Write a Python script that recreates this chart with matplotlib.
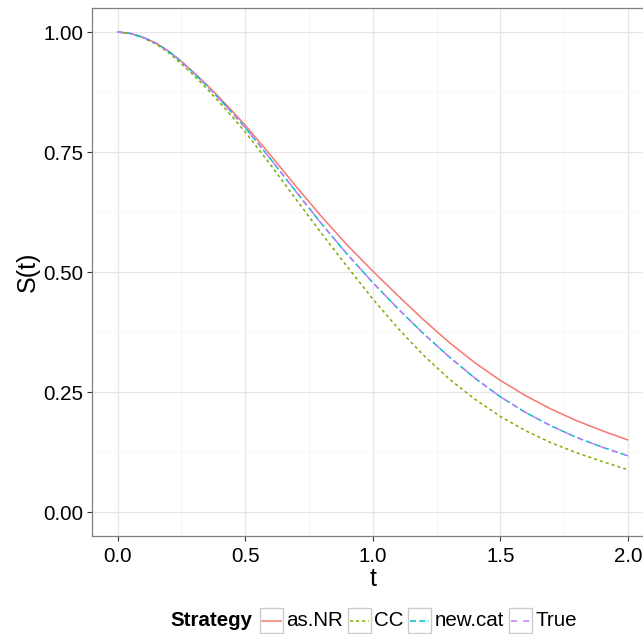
import matplotlib
matplotlib.use("Agg")
import matplotlib.pyplot as plt
from matplotlib.patches import Rectangle
from matplotlib.lines import Line2D

# ---- data ----
t = [0.00, 0.05, 0.10, 0.15, 0.20, 0.25, 0.30, 0.35, 0.40, 0.45, 0.50,
     0.6, 0.7, 0.8, 0.9, 1.0, 1.1, 1.2, 1.3, 1.4, 1.5, 1.6, 1.7, 1.8, 1.9, 2.0]
as_nr = [1.000, 0.997, 0.989, 0.977, 0.960, 0.939, 0.915, 0.890, 0.863, 0.835, 0.806,
         0.743, 0.678, 0.615, 0.556, 0.502, 0.450, 0.400, 0.353, 0.311, 0.274,
         0.242, 0.214, 0.190, 0.169, 0.150]
cc = [1.000, 0.997, 0.988, 0.975, 0.957, 0.934, 0.909, 0.882, 0.853, 0.823, 0.792,
      0.723, 0.651, 0.580, 0.511, 0.444, 0.382, 0.326, 0.277, 0.235, 0.199,
      0.169, 0.144, 0.123, 0.105, 0.088]
new_cat = [1.000, 0.997, 0.989, 0.977, 0.960, 0.938, 0.914, 0.888, 0.860, 0.831, 0.801,
           0.735, 0.667, 0.600, 0.537, 0.478, 0.423, 0.371, 0.323, 0.279, 0.240,
           0.207, 0.179, 0.155, 0.135, 0.117]
true_s = [1.000, 0.997, 0.989, 0.977, 0.960, 0.938, 0.914, 0.888, 0.860, 0.831, 0.801,
          0.735, 0.667, 0.600, 0.537, 0.478, 0.423, 0.371, 0.323, 0.279, 0.240,
          0.207, 0.179, 0.155, 0.135, 0.117]

series_names = ["as.NR", "CC", "new.cat", "True"]
series_vals = [as_nr, cc, new_cat, true_s]
colors = ["#F8766D", "#7CAE00", "#00BFC4", "#C77CFF"]
dashes = [None, (2, 2), (4, 2), (4, 4)]

x_ticks = [0.0, 0.5, 1.0, 1.5, 2.0]
x_ticklabels = ["0.0", "0.5", "1.0", "1.5", "2.0"]
y_ticks = [0.0, 0.25, 0.5, 0.75, 1.0]
y_ticklabels = ["0.00", "0.25", "0.50", "0.75", "1.00"]

plt.rcParams["font.family"] = ["Liberation Sans", "DejaVu Sans"]

W, H = 643, 634
fig = plt.figure(figsize=(W / 100, H / 100), dpi=100)
left, top, bottom, right = 92, 8, 536, 653.5
ax = fig.add_axes([left / W, (H - bottom) / H, (right - left) / W, (bottom - top) / H])

lw = 1.1
for name, vals, col, d in zip(series_names, series_vals, colors, dashes):
    line, = ax.plot(t, vals, color=col, lw=lw, solid_capstyle="butt",
                    solid_joinstyle="round")
    if d is not None:
        line.set_dashes(d)

ax.set_xlim(-0.1, 2.1)
ax.set_ylim(-0.05, 1.05)
ax.set_xticks(x_ticks)
ax.set_xticklabels(x_ticklabels)
ax.set_yticks(y_ticks)
ax.set_yticklabels(y_ticklabels)
ax.set_xticks([0.25, 0.75, 1.25, 1.75], minor=True)
ax.set_yticks([0.125, 0.375, 0.625, 0.875], minor=True)
ax.grid(which="major", color="#E6E6E6", lw=0.9)
ax.grid(which="minor", color="#F5F5F5", lw=0.6)
ax.set_axisbelow(True)
for s in ax.spines.values():
    s.set_color("#7F7F7F")
    s.set_linewidth(0.9)
ax.tick_params(which="major", length=3.6, width=0.8, color="#333333",
               labelsize=14.8, labelcolor="black")
ax.tick_params(axis="x", pad=4.0)
ax.tick_params(axis="y", pad=2.5)
ax.tick_params(which="minor", length=0)

ax.set_xlabel("t", fontsize=18, labelpad=1)
ax.set_ylabel("S(t)", fontsize=18, labelpad=2.5)

# ---- legend (bottom, horizontal) ----
renderer = fig.canvas.get_renderer()
yc = 621
def fx(x):
    return x / W
def fy(y):
    return 1 - y / H

x = 170
tt = fig.text(fx(x), fy(yc), "Strategy", fontsize=14.8, fontweight="bold",
              ha="left", va="center")
bb = tt.get_window_extent(renderer)
x = bb.x1 + 8
for name, col, d in zip(series_names, colors, dashes):
    fig.patches.append(Rectangle((fx(x), fy(633)), 23 / W, 25 / H,
                                 transform=fig.transFigure, facecolor="white",
                                 edgecolor="#CCCCCC", lw=1.0))
    ln = Line2D([fx(x + 2), fx(x + 21)], [fy(yc), fy(yc)], transform=fig.transFigure,
                color=col, lw=lw)
    if d is not None:
        ln.set_dashes(d)
    fig.lines.append(ln)
    tx = fig.text(fx(x + 26.5), fy(yc), name, fontsize=14.8, ha="left", va="center")
    bb = tx.get_window_extent(renderer)
    x = bb.x1 + 4.5

fig.savefig("out.png", dpi=100)
